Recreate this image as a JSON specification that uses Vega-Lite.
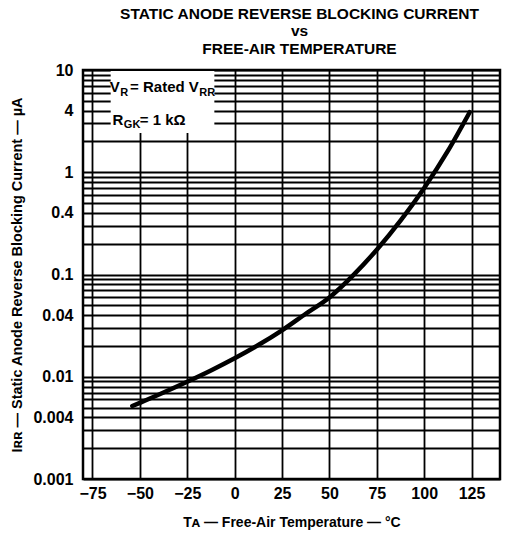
{
  "$schema": "https://vega.github.io/schema/vega-lite/v6.json",
  "autosize": "none",
  "width": 417,
  "height": 409,
  "padding": {"left": 83, "top": 70, "right": 11, "bottom": 56},
  "background": "white",
  "config": {
    "font": "Liberation Sans",
    "view": {"stroke": "black", "strokeWidth": 2.5},
    "axis": {"labelFont": "Liberation Sans", "titleFont": "Liberation Sans", "labelFontWeight": "bold", "titleFontWeight": "bold", "labelColor": "black", "titleColor": "black"}
  },
  "title": {
    "text": ["STATIC ANODE REVERSE BLOCKING CURRENT", "vs", "FREE-AIR TEMPERATURE"],
    "font": "Liberation Sans",
    "fontSize": 15.5,
    "fontWeight": "bold",
    "lineHeight": 17.5,
    "color": "black",
    "anchor": "middle",
    "frame": "group",
    "offset": 5,
    "dx": 8
  },
  "datasets": {
    "curve": [
      {"t": -54, "i": 0.005176},
      {"t": -50, "i": 0.005559},
      {"t": -37.5, "i": 0.007015},
      {"t": -25, "i": 0.008933},
      {"t": -12.5, "i": 0.01151},
      {"t": 0, "i": 0.01514},
      {"t": 12.5, "i": 0.02042},
      {"t": 25, "i": 0.02844},
      {"t": 37.5, "i": 0.0413},
      {"t": 50, "i": 0.0597},
      {"t": 62.5, "i": 0.09817},
      {"t": 75, "i": 0.1746},
      {"t": 87.5, "i": 0.3365},
      {"t": 100, "i": 0.7015},
      {"t": 112.5, "i": 1.616},
      {"t": 124, "i": 3.864}
    ],
    "box": [{"t1": -65.4, "t2": -10.7, "i1": 2.42, "i2": 9.8}],
    "mainRight": [
      {"t": -60.6, "i": 6.03, "label": "V"},
      {"t": -18.9, "i": 6.03, "label": "= Rated V"},
      {"t": -58.7, "i": 2.9, "label": "R"}
    ],
    "mainLeft": [
      {"t": -50.06, "i": 2.9, "label": "= 1 kΩ"}
    ],
    "subText": [
      {"t": -60.3, "i": 6.03, "label": "R"},
      {"t": -18.66, "i": 6.03, "label": "RR"},
      {"t": -58.45, "i": 2.9, "label": "GK"}
    ]
  },
  "layer": [
    {
      "data": {"name": "box"},
      "mark": {"type": "rect", "fill": "white", "stroke": null},
      "encoding": {
        "x": {"field": "t1", "type": "quantitative", "scale": {"domain": [-75, 125]},
          "axis": {"values": [-75, -50, -25, 0, 25, 50, 75, 100, 125], "grid": true, "gridColor": "black", "gridWidth": 1.8, "gridOpacity": 1, "domain": false, "ticks": false, "labelFontSize": 16, "labelPadding": 6, "title": "Tᴀ — Free-Air Temperature — °C", "titleFontSize": 14, "titlePadding": 14}},
        "x2": {"field": "t2"},
        "y": {"field": "i1", "type": "quantitative", "scale": {"type": "log", "domain": [0.001, 10]},
          "axis": {"values": [0.001, 0.002, 0.003, 0.004, 0.005, 0.006, 0.007, 0.008, 0.009, 0.01, 0.02, 0.03, 0.04, 0.05, 0.06, 0.07, 0.08, 0.09, 0.1, 0.2, 0.3, 0.4, 0.5, 0.6, 0.7, 0.8, 0.9, 1, 2, 3, 4, 5, 6, 7, 8, 9, 10],
            "labelExpr": "indexof(['0.001','0.004','0.01','0.04','0.1','0.4','1','4','10'], format(datum.value, '~g')) >= 0 ? format(datum.value, '~g') : ''",
            "grid": true, "gridColor": "black", "gridWidth": 1.8, "gridOpacity": 1, "domain": false, "ticks": false, "labelFontSize": 16, "labelPadding": 10, "labelOverlap": false, "labelBound": false,
            "title": "Iʀʀ — Static Anode Reverse Blocking Current — µA", "titleFontSize": 14.5, "titlePadding": 8}},
        "y2": {"field": "i2"}
      }
    },
    {
      "data": {"name": "curve"},
      "mark": {"type": "line", "color": "black", "strokeWidth": 4.5, "interpolate": "monotone", "strokeCap": "round"},
      "encoding": {
        "x": {"field": "t", "type": "quantitative"},
        "y": {"field": "i", "type": "quantitative"}
      }
    },
    {
      "data": {"name": "mainRight"},
      "mark": {"type": "text", "align": "right", "baseline": "alphabetic", "font": "Liberation Sans", "fontWeight": "bold", "fontSize": 15, "color": "black"},
      "encoding": {
        "x": {"field": "t", "type": "quantitative"},
        "y": {"field": "i", "type": "quantitative"},
        "text": {"field": "label"}
      }
    },
    {
      "data": {"name": "mainLeft"},
      "mark": {"type": "text", "align": "left", "baseline": "alphabetic", "font": "Liberation Sans", "fontWeight": "bold", "fontSize": 15, "color": "black"},
      "encoding": {
        "x": {"field": "t", "type": "quantitative"},
        "y": {"field": "i", "type": "quantitative"},
        "text": {"field": "label"}
      }
    },
    {
      "data": {"name": "subText"},
      "mark": {"type": "text", "align": "left", "baseline": "alphabetic", "font": "Liberation Sans", "fontWeight": "bold", "fontSize": 11, "dy": 3.5, "color": "black"},
      "encoding": {
        "x": {"field": "t", "type": "quantitative"},
        "y": {"field": "i", "type": "quantitative"},
        "text": {"field": "label"}
      }
    }
  ]
}
